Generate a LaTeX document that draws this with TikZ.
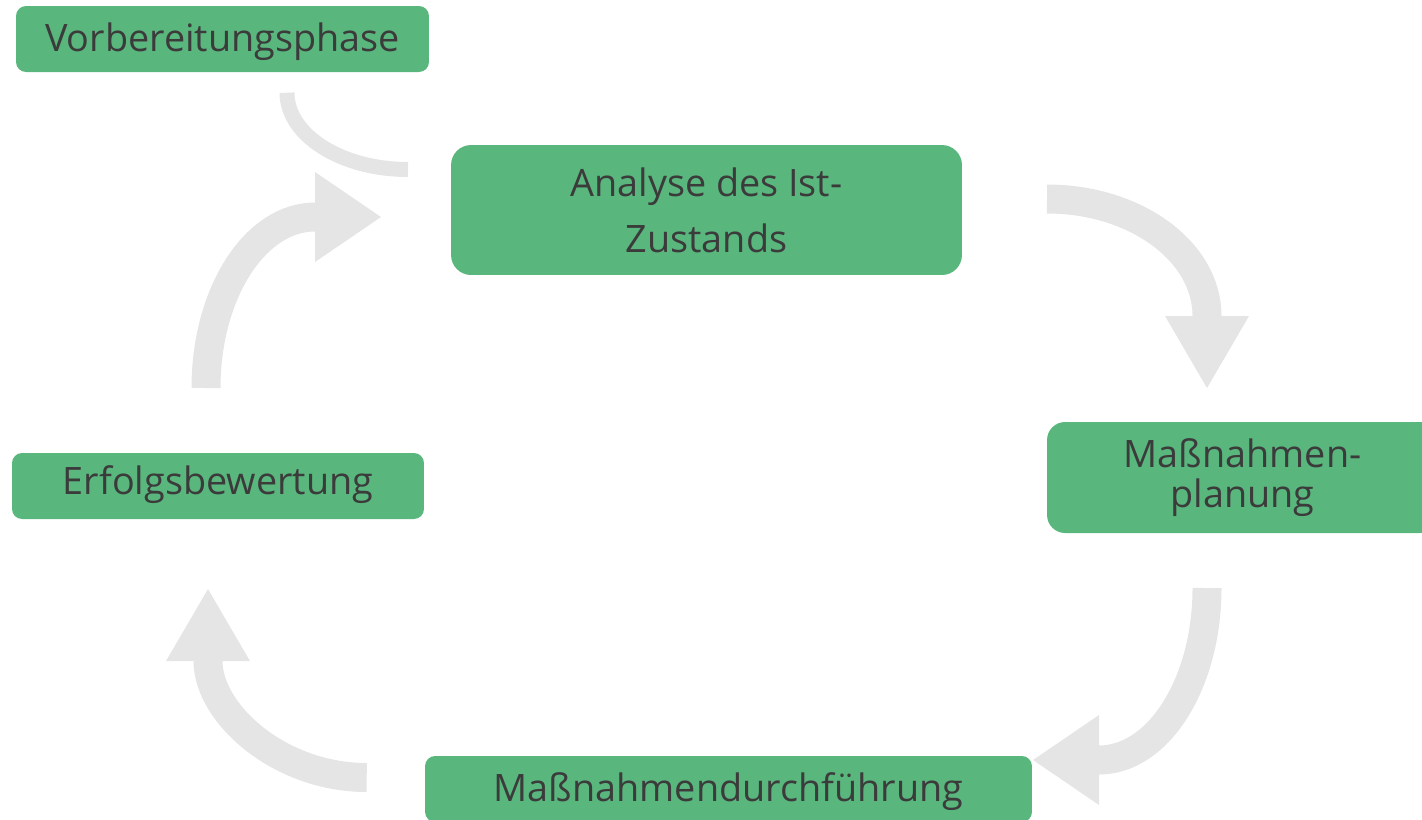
\documentclass[tikz,border=0pt]{standalone}
\usepackage{fontspec}
\setmainfont{Open Sans}
\definecolor{phasegreen}{RGB}{89,183,125}
\definecolor{cyclegrey}{RGB}{229,229,229}
\definecolor{phasetext}{RGB}{59,59,59}
\usetikzlibrary{arrows.meta}
\tikzset{
  phase/.style={fill=phasegreen, text=phasetext, inner sep=0pt, align=center,
    rounded corners=0.2cm, font=\fontsize{21.5}{26}\selectfont},
  oneline/.style={text height=0.54cm, text depth=0.04cm},
  cyclearrow/.style 2 args={draw=cyclegrey, line width=0.58cm,
    -{Triangle[width=#1, length=#2, line width=0pt]}},
}

\begin{document}
\begin{tikzpicture}[x=0.02cm, y=-0.02cm]
  \useasboundingbox (0,0) rectangle (1422,819);

  \node [phase, oneline, minimum width=8.26cm, minimum height=1.32cm] (vorb) at (222.5,39) {Vorbereitungsphase};
  \node [phase, minimum width=10.22cm, minimum height=2.6cm, rounded corners=0.4cm,
    font=\fontsize{21.5}{31.9}\selectfont] (ana) at (706.5,210) {Analyse des Ist-\\Zustands};
  \node [phase, minimum width=7.82cm, minimum height=2.22cm, rounded corners=0.36cm,
    font=\fontsize{21.5}{22.4}\selectfont] (plan) at (1242.5,477.5) {Maßnahmen-\\planung};
  \node [phase, oneline, text depth=0.2cm, minimum width=8.24cm, minimum height=1.32cm] (erf) at (218,486) {Erfolgsbewertung};
  \node [phase, oneline, minimum width=12.14cm, minimum height=1.32cm] (durch) at (728.5,789) {Maßnahmendurchführung};

  \coordinate (a1s) at (1047,199);
  \coordinate (a1e) at (1207,388);
  \coordinate (a2s) at (1207,588);
  \coordinate (a2e) at (1033,760);
  \coordinate (a3s) at (366.7,777.5);
  \coordinate (a3e) at (208,589);
  \coordinate (a4s) at (206,388);
  \coordinate (a4e) at (381,217);
  \coordinate (v1s) at (287,92.7);
  \coordinate (v1e) at (408,169.5);

  % ana to plan:
  \draw [cyclearrow={1.68cm}{1.44cm}] (a1s) .. controls (1135.4,199) and (1207,251.4) .. (1207,316) -- (a1e);
  % plan to durch:
  \draw [cyclearrow={1.8cm}{1.32cm}] (a2s) .. controls (1207,683) and (1158.6,760) .. (1099,760) -- (a2e);
  % durch to erf:
  \draw [cyclearrow={1.68cm}{1.44cm}] (a3s) .. controls (279,777.5) and (208,713.2) .. (208,661) -- (a3e);
  % erf to ana:
  \draw [cyclearrow={1.8cm}{1.32cm}] (a4s) .. controls (206,293.6) and (254.8,217) .. (315,217) -- (a4e);
  % vorb to ana:
  \draw [draw=cyclegrey, line width=0.3cm] (v1s) .. controls (287,135.1) and (341.2,169.5) .. (v1e);

\end{tikzpicture}
\end{document}
